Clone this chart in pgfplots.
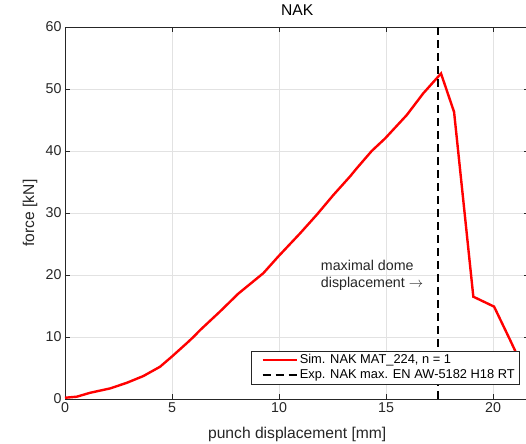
\documentclass[border=0pt]{standalone}
\usepackage{pgfplots}
\pgfplotsset{compat=1.18}
\usepackage{fontspec}
\setmainfont{Liberation Sans}
\definecolor{axgray}{RGB}{38,38,38}
\definecolor{gridgray}{RGB}{226,226,226}
\begin{document}
\begin{tikzpicture}
\begin{axis}[name=ax, scale only axis, width=464.4bp, height=372bp,
  xmin=0, xmax=21.7, ymin=0, ymax=60,
  xtick={0,5,10,15,20}, ytick={0,10,20,30,40,50,60},
  grid=major, major grid style={gridgray, line width=0.5bp},
  axis line style={axgray, line width=0.6bp},
  tick style={axgray, line width=0.6bp},
  major tick length=5bp, tick align=inside,
  /pgf/number format/assume math mode=true,
  ticklabel style={font=\fontsize{14.3}{16}\selectfont, text=axgray},
  xlabel={punch displacement [mm]}, ylabel={force [kN]},
  xlabel style={at={(axis description cs:0.5,-0.094)}, anchor=center, font=\fontsize{15.7}{18}\selectfont, text=axgray},
  ylabel style={at={(axis description cs:-0.075,0.5)}, anchor=center, font=\fontsize{15.7}{18}\selectfont, text=axgray},
  title={NAK},
  title style={at={(axis description cs:0.5,1)}, anchor=south, inner sep=0pt, yshift=5bp, font=\fontsize{15.7}{18}\selectfont, text=black},
  legend style={at={(axis description cs:0.9776,0.0403)}, anchor=south east, draw=axgray, line width=0.5bp, fill=white,
    font=\fontsize{12.9}{15}\selectfont, text=black, inner xsep=2bp, inner ysep=1.5bp, row sep=0.5bp},
  legend cell align=left,
  legend image code/.code={\path (-8bp,0bp); \draw[#1] (0bp,0bp) -- (34bp,0bp);},
]
\addplot[red, line width=2.4bp] coordinates {
(0,0.2) (0.55,0.37) (1.17,1.0) (2.1,1.7) (2.88,2.6) (3.66,3.7) (4.44,5.2) (4.98,6.8)
(5.69,9.0) (6.0,10.0) (6.31,11.1) (7.24,14.1) (8.1,17.0) (9.27,20.3) (9.97,23.0)
(10.98,26.7) (11.76,29.7) (12.54,32.9) (13.32,35.9) (13.63,37.2) (14.33,40.0) (14.95,42.0)
(15.97,45.8) (16.74,49.3) (17.57,52.5) (18.18,46.3) (19.08,16.5) (20.05,14.9) (20.8,9.5) (21.1,7.3)
};
\addlegendentry{Sim. NAK MAT\_224, n = 1}
\addplot[black, line width=2bp, dash pattern=on 8bp off 5bp] coordinates {(17.45,0) (17.45,60)};
\addlegendentry{Exp. NAK max. EN AW-5182 H18 RT}
\node[anchor=west, align=left, inner sep=0pt, font=\fontsize{14.3}{17}\selectfont, text=axgray] at (axis cs:11.95,19.9) {maximal dome\\displacement $\rightarrow$};
\end{axis}
\pgfresetboundingbox
\path[use as bounding box] ([shift={(-65bp,-45bp)}]ax.south west) rectangle ([shift={(461bp,399bp)}]ax.south west);
\end{tikzpicture}
\end{document}
